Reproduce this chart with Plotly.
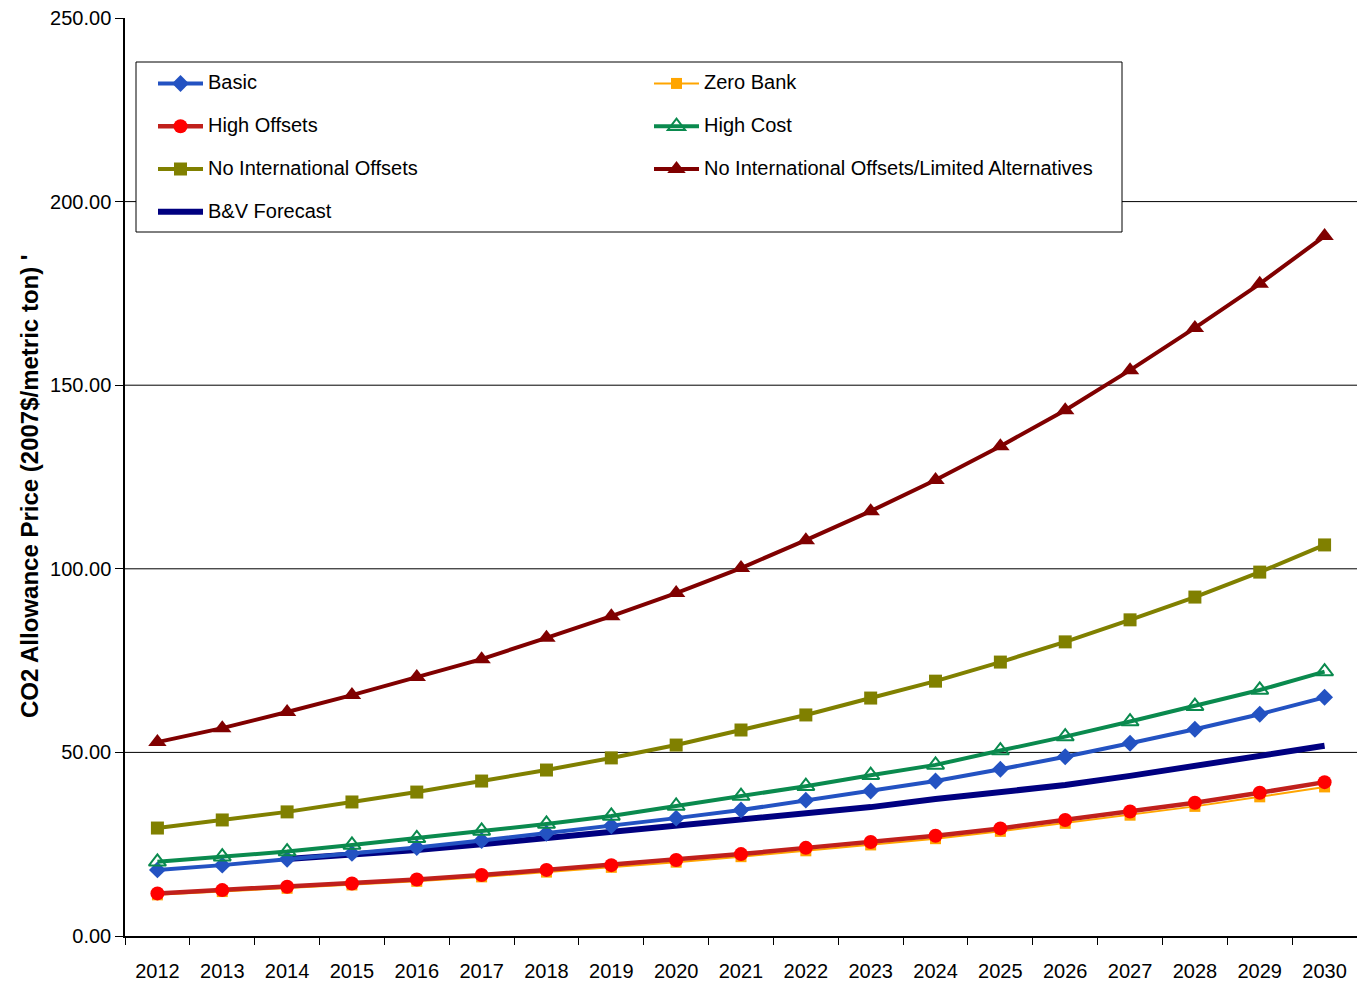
import plotly.graph_objects as go

# Years on the category axis
years = [str(y) for y in range(2012, 2031)]

# CO2 allowance price scenarios (2007$/metric ton)
basic = [18.0, 19.3, 20.9, 22.5, 24.1, 26.0, 28.0, 30.0, 32.1, 34.3,
         37.0, 39.5, 42.2, 45.4, 48.8, 52.5, 56.3, 60.4, 65.0]
zero_bank = [11.2, 12.1, 13.0, 13.9, 14.9, 16.1, 17.4, 18.7, 20.1, 21.6,
             23.2, 24.8, 26.5, 28.5, 30.7, 32.9, 35.3, 37.9, 40.6]
high_offsets = [11.6, 12.5, 13.4, 14.3, 15.4, 16.6, 18.0, 19.3, 20.7, 22.3,
                24.0, 25.6, 27.3, 29.3, 31.6, 33.9, 36.3, 39.0, 41.9]
high_cost = [20.2, 21.6, 23.0, 24.8, 26.6, 28.6, 30.5, 32.7, 35.4, 38.1,
             40.8, 43.8, 46.6, 50.5, 54.3, 58.4, 62.6, 67.0, 72.0]
no_intl = [29.4, 31.6, 33.8, 36.5, 39.2, 42.2, 45.2, 48.5, 52.0, 56.1,
           60.2, 64.8, 69.4, 74.6, 80.1, 86.1, 92.3, 99.1, 106.5]
no_intl_limited = [52.8, 56.6, 61.0, 65.6, 70.5, 75.4, 81.2, 87.1, 93.4, 100.2,
                   107.8, 115.7, 124.2, 133.4, 143.2, 154.1, 165.6, 177.6, 190.6]
bv_years = years[2:]
bv_forecast = [21.0, 22.1, 23.4, 25.0, 26.7, 28.3, 30.0, 31.6, 33.2, 35.1,
               37.3, 39.0, 41.1, 43.6, 46.3, 49.0, 51.8]

y_ticks = [0, 50, 100, 150, 200, 250]

ARIAL = "Liberation Sans, Arial, sans-serif"


def legend_label(text):
    # 20px label followed by an empty line, which sets the legend row pitch
    return f"<span style='font-size:20px'>{text}</span><br>"


fig = go.Figure()

# B&V forecast drawn first so scenario markers sit on top of it
fig.add_trace(go.Scatter(
    x=bv_years, y=bv_forecast, name=legend_label("B&V Forecast"), mode="lines",
    line=dict(color="#000080", width=6), legendrank=7))

series = [
    ("Basic", basic, "#2352C2", 4, dict(symbol="diamond", size=13, color="#2352C2")),
    ("Zero Bank", zero_bank, "#FFA500", 2, dict(symbol="square", size=11, color="#FFA500")),
    ("High Offsets", high_offsets, "#C0201C", 4.5, dict(symbol="circle", size=14, color="#FF0000")),
    ("High Cost", high_cost, "#0A8A4E", 4, dict(symbol="triangle-up-open", size=15, color="#0A8A4E",
                                                  line=dict(width=2, color="#0A8A4E"))),
    ("No International Offsets", no_intl, "#808000", 4, dict(symbol="square", size=13, color="#808000")),
    ("No International Offsets/Limited Alternatives", no_intl_limited, "#800000", 4,
     dict(symbol="triangle-up", size=16, color="#800000")),
]
for rank, (name, vals, color, width, marker) in enumerate(series, start=1):
    fig.add_trace(go.Scatter(
        x=years, y=vals, name=legend_label(name), mode="lines+markers",
        line=dict(color=color, width=width), marker=marker, legendrank=rank))

# Horizontal gridlines (none along the top edge)
for v in y_ticks[1:-1]:
    fig.add_shape(type="line", xref="paper", yref="y", x0=0, x1=1, y0=v, y1=v,
                  line=dict(color="#000000", width=1), layer="below")

# Legend frame (plot area spans 125..1357 px horizontally, 18..936 px vertically)
PX0, PW, PY1, PH = 125, 1232, 936, 918
fig.add_shape(type="rect", xref="paper", yref="paper",
              x0=(136 - PX0) / PW, x1=(1122 - PX0) / PW,
              y0=(PY1 - 232) / PH, y1=(PY1 - 62) / PH,
              fillcolor="white", line=dict(color="#000000", width=1), layer="below")

fig.update_layout(
    width=1357, height=983,
    margin=dict(l=125, r=0, t=18, b=47),
    paper_bgcolor="white", plot_bgcolor="white",
    showlegend=True,
    legend=dict(
        orientation="h", x=(153 - PX0) / PW, y=(PY1 - 67) / PH,
        xanchor="left", yanchor="top", valign="top",
        entrywidth=436, entrywidthmode="pixels", itemwidth=45,
        bgcolor="rgba(0,0,0,0)", borderwidth=0,
        font=dict(family=ARIAL, size=15.3, color="#000000"),
        traceorder="normal",
    ),
    xaxis=dict(
        type="category", categoryorder="array", categoryarray=years,
        range=[-0.5, 18.5], tickson="boundaries",
        ticks="outside", ticklen=7, tickcolor="#000000", tickwidth=1,
        showline=True, linecolor="#000000", linewidth=1.5,
        showgrid=False, ticklabelstandoff=16,
        tickfont=dict(family=ARIAL, size=20, color="#000000"),
    ),
    yaxis=dict(
        range=[0, 250], tickvals=y_ticks, tickformat=".2f",
        ticks="outside", ticklen=8, tickcolor="#000000", tickwidth=1,
        showline=True, linecolor="#000000", linewidth=1.5,
        showgrid=False, zeroline=False,
        tickfont=dict(family=ARIAL, size=20, color="#000000"),
    ),
    annotations=[dict(
        text="CO2 Allowance Price (2007$/metric ton) '",
        xref="paper", yref="paper", x=-0.078, y=0.49,
        xanchor="center", yanchor="middle", textangle=-90, showarrow=False,
        font=dict(family=ARIAL, size=24, color="#000000", weight="bold"),
    )],
)

fig.write_html("out.html")
